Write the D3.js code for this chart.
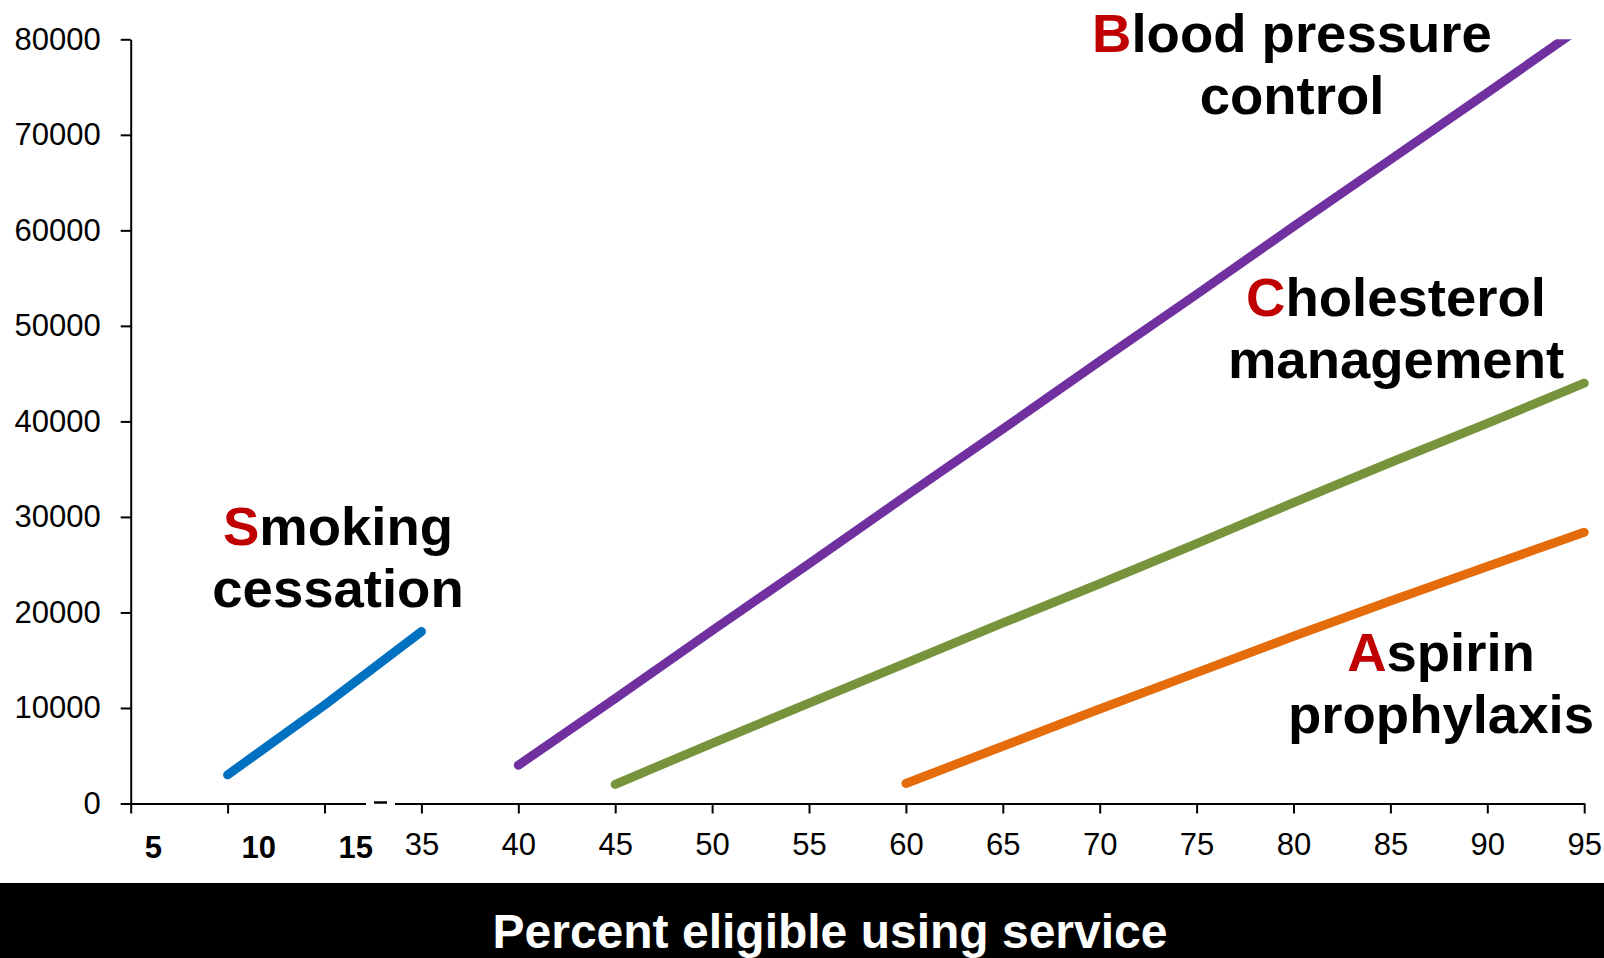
<!DOCTYPE html>
<html>
<head>
<meta charset="utf-8">
<script src="https://cdn.jsdelivr.net/npm/d3@7"></script>
<style>
    body { margin: 0; background: #fff; }
    svg { display: block; }
</style>
</head>
<body>
<div id="chart"></div>
<script>
// x positions are axis steps (20..95); the first three steps carry the bold 5/10/15 labels
const xTicks = [20, 25, 30, 35, 40, 45, 50, 55, 60, 65, 70, 75, 80, 85, 90, 95];
const xTickLabels = ["", "", "", "35", "40", "45", "50", "55", "60", "65", "70", "75", "80", "85", "90", "95"];
const xBoldTicks = [20, 25, 30];
const xBoldLabels = ["5", "10", "15"];
const yTicks = [0, 10000, 20000, 30000, 40000, 50000, 60000, 70000, 80000];

const smokingX = [25, 30, 35];
const smokingY = [3000, 10300, 18000];

const bloodX = [40, 45, 50, 55, 60, 65, 70, 75, 80, 85, 90, 95];
const bloodY = [4000, 11000, 18100, 25100, 32200, 39200, 46300, 53300, 60400, 67400, 74400, 81500];

const cholX = [45, 50, 55, 60, 65, 70, 75, 80, 85, 90, 95];
const cholY = [2000, 6300, 10500, 14700, 18900, 23000, 27200, 31500, 35700, 39800, 44000];

const aspirinX = [60, 65, 70, 75, 80, 85, 90, 95];
const aspirinY = [2100, 6000, 9900, 13700, 17500, 21200, 24800, 28400];

const seriesNames = [["S", "moking", "cessation"], ["B", "lood pressure", "control"],
    ["C", "holesterol", "management"], ["A", "spirin", "prophylaxis"]];
const seriesColors = ["#0070C0", "#7030A0", "#77933C", "#E46C0A"];

const FONT = "Arial, 'Liberation Sans', sans-serif";

function buildChart() {
    const W = 1604, H = 958;
    const svg = d3.select("#chart").append("svg")
        .attr("width", W)
        .attr("height", H);

    svg.append("rect").attr("width", W).attr("height", H).attr("fill", "#fff");

    const x = d3.scaleLinear().domain([20, 95]).range([130.7, 1584.2]);
    const y = d3.scaleLinear().domain([0, 80000]).range([803.5, 39.3]);

    svg.append("clipPath").attr("id", "plot-clip")
        .append("rect")
        .attr("x", 0).attr("y", y(80000))
        .attr("width", W).attr("height", y(0) - y(80000) + 20);

    // axes
    const yAxis = svg.append("g")
        .attr("transform", `translate(${x(20)},0)`)
        .call(d3.axisLeft(y).tickValues(yTicks).tickSize(10).tickSizeOuter(0)
            .tickPadding(20).tickFormat(d3.format("d")));

    const xAxis = svg.append("g")
        .attr("transform", `translate(0,${y(0)})`)
        .call(d3.axisBottom(x).tickValues(xTicks).tickSize(10).tickSizeOuter(0)
            .tickPadding(19.5).tickFormat((d, i) => xTickLabels[i]));

    [xAxis, yAxis].forEach(g => {
        g.attr("font-family", FONT).attr("font-size", 31);
        g.selectAll("path, line").attr("stroke", "#000").attr("stroke-width", 2);
        g.selectAll("text").attr("fill", "#000");
    });

    svg.selectAll(".bold-tick")
        .data(xBoldTicks)
        .enter().append("text")
        .attr("class", "bold-tick")
        .attr("x", d => x(d) + 14)
        .attr("y", 858)
        .attr("font-family", FONT)
        .attr("font-size", 31)
        .attr("font-weight", "bold")
        .text((d, i) => xBoldLabels[i]);

    // axis break between 15 and 35
    svg.append("rect")
        .attr("x", 366).attr("y", y(0) - 4)
        .attr("width", 29).attr("height", 8)
        .attr("fill", "#fff");
    svg.append("line")
        .attr("x1", 374).attr("x2", 387)
        .attr("y1", y(0) - 1).attr("y2", y(0) - 1)
        .attr("stroke", "#000").attr("stroke-width", 2.5);

    // lines
    const line = d3.line().x(d => x(d[0])).y(d => y(d[1]));
    const series = [
        d3.zip(smokingX, smokingY),
        d3.zip(bloodX, bloodY),
        d3.zip(cholX, cholY),
        d3.zip(aspirinX, aspirinY)
    ];

    svg.append("g")
        .attr("clip-path", "url(#plot-clip)")
        .selectAll("path")
        .data(series)
        .enter().append("path")
        .attr("d", line)
        .attr("fill", "none")
        .attr("stroke", (d, i) => seriesColors[i])
        .attr("stroke-width", 9)
        .attr("stroke-linecap", "round")
        .attr("stroke-linejoin", "round");

    // series labels
    const labelPos = [[338, 545], [1292, 52], [1396, 315.7], [1441, 671]];
    const labels = svg.selectAll(".series-label")
        .data(seriesNames)
        .enter().append("g")
        .attr("class", "series-label")
        .attr("font-family", FONT)
        .attr("font-size", 54.5)
        .attr("font-weight", "bold")
        .attr("text-anchor", "middle");

    const first = labels.append("text")
        .attr("x", (d, i) => labelPos[i][0])
        .attr("y", (d, i) => labelPos[i][1]);
    first.append("tspan").attr("fill", "#C00000").text(d => d[0]);
    first.append("tspan").attr("fill", "#000").text(d => d[1]);

    labels.append("text")
        .attr("x", (d, i) => labelPos[i][0])
        .attr("y", (d, i) => labelPos[i][1] + 62)
        .attr("fill", "#000")
        .text(d => d[2]);

    // bottom title band
    svg.append("rect")
        .attr("x", 0).attr("y", 883)
        .attr("width", W).attr("height", H - 883)
        .attr("fill", "#000");
    svg.append("text")
        .attr("x", 830).attr("y", 948)
        .attr("text-anchor", "middle")
        .attr("font-family", FONT)
        .attr("font-size", 48)
        .attr("font-weight", "bold")
        .attr("fill", "#fff")
        .text("Percent eligible using service");
}

window.addEventListener("load", () => {
    buildChart();
});
</script>
</body>
</html>
